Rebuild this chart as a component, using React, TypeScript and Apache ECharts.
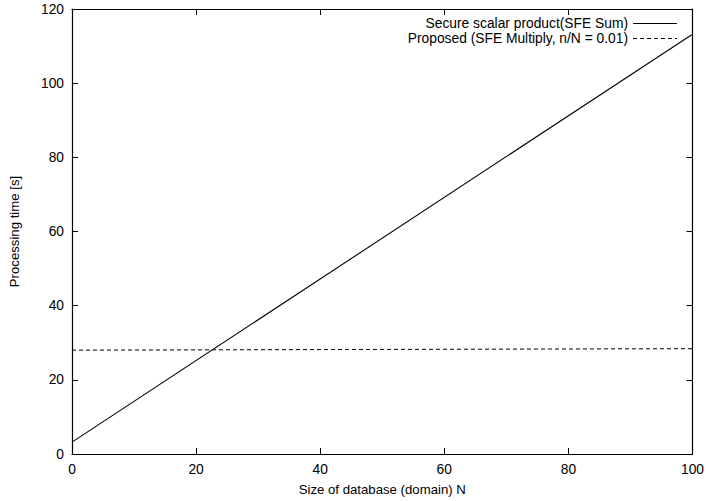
import React, { useEffect, useRef } from "react";
import * as echarts from "echarts";

const xValues = [0, 100];
const sumValues = [3.2, 113.2];
const multValues = [28.0, 28.4];
const seriesNames = ["Secure scalar product(SFE Sum)", "Proposed (SFE Multiply, n/N = 0.01)"];
const xTicks = [0, 20, 40, 60, 80, 100];
const yTicks = [0, 20, 40, 60, 80, 100, 120];

const FONT = "Liberation Sans, Arial, Helvetica, sans-serif";

export default function App() {
  const ref = useRef<HTMLDivElement>(null);
  useEffect(() => {
    if (!ref.current) return;
    const chart = echarts.init(ref.current, undefined, { renderer: "svg" });
    const axisCommon = {
      axisLine: { show: true, onZero: false, lineStyle: { color: "#000", width: 1.2 } },
      axisTick: { show: true, inside: true, length: 6, lineStyle: { color: "#000", width: 1 } },
      splitLine: { show: false },
    };
    const labelStyle = { color: "#000", fontSize: 13.8, fontFamily: FONT };
    const lx1 = 633, lx2 = 677, textRight = 628;
    chart.setOption({
      animation: false,
      backgroundColor: "#fff",
      grid: { left: 70, right: 12, top: 9, bottom: 47, containLabel: false },
      xAxis: [
        {
          type: "value", min: xTicks[0], max: xTicks[xTicks.length - 1], interval: 20,
          position: "bottom",
          ...axisCommon,
          axisLabel: { ...labelStyle, margin: 8 },
          name: "Size of database (domain) N",
          nameLocation: "middle",
          nameGap: 29,
          nameTextStyle: { ...labelStyle, fontSize: 13.2 },
        },
        {
          type: "value", min: 0, max: 100, interval: 20, position: "top",
          ...axisCommon, axisLabel: { show: false },
        },
      ],
      yAxis: [
        {
          type: "value", min: yTicks[0], max: yTicks[yTicks.length - 1], interval: 20,
          position: "left",
          ...axisCommon,
          axisLabel: { ...labelStyle, margin: 8 },
          name: "Processing time [s]",
          nameLocation: "middle",
          nameGap: 51,
          nameTextStyle: { ...labelStyle, fontSize: 13.2 },
        },
        {
          type: "value", min: 0, max: 120, interval: 20, position: "right",
          ...axisCommon, axisLabel: { show: false },
        },
      ],
      series: [
        {
          name: seriesNames[0], type: "line", showSymbol: false, symbol: "none",
          data: xValues.map((x, i) => [x, sumValues[i]]),
          lineStyle: { color: "#000", width: 1.1, type: "solid" },
        },
        {
          name: seriesNames[1], type: "line", showSymbol: false, symbol: "none",
          data: xValues.map((x, i) => [x, multValues[i]]),
          lineStyle: { color: "#000", width: 1, type: [4, 3] },
        },
      ],
      graphic: [
        { type: "text", right: 707 - textRight, top: 16, style: { text: seriesNames[0], fill: "#000", font: `13.8px ${FONT}` } },
        { type: "text", right: 707 - textRight, top: 31, style: { text: seriesNames[1], fill: "#000", font: `13.8px ${FONT}` } },
        { type: "line", shape: { x1: lx1, y1: 23.5, x2: lx2, y2: 23.5 }, style: { stroke: "#000", lineWidth: 1 } },
        { type: "line", shape: { x1: lx1, y1: 38.5, x2: lx2, y2: 38.5 }, style: { stroke: "#000", lineWidth: 1, lineDash: [4, 3] } },
      ],
    });
    return () => chart.dispose();
  }, []);
  return <div ref={ref} style={{ width: 707, height: 501, position: "absolute", left: 0, top: 0 }} />;
}
